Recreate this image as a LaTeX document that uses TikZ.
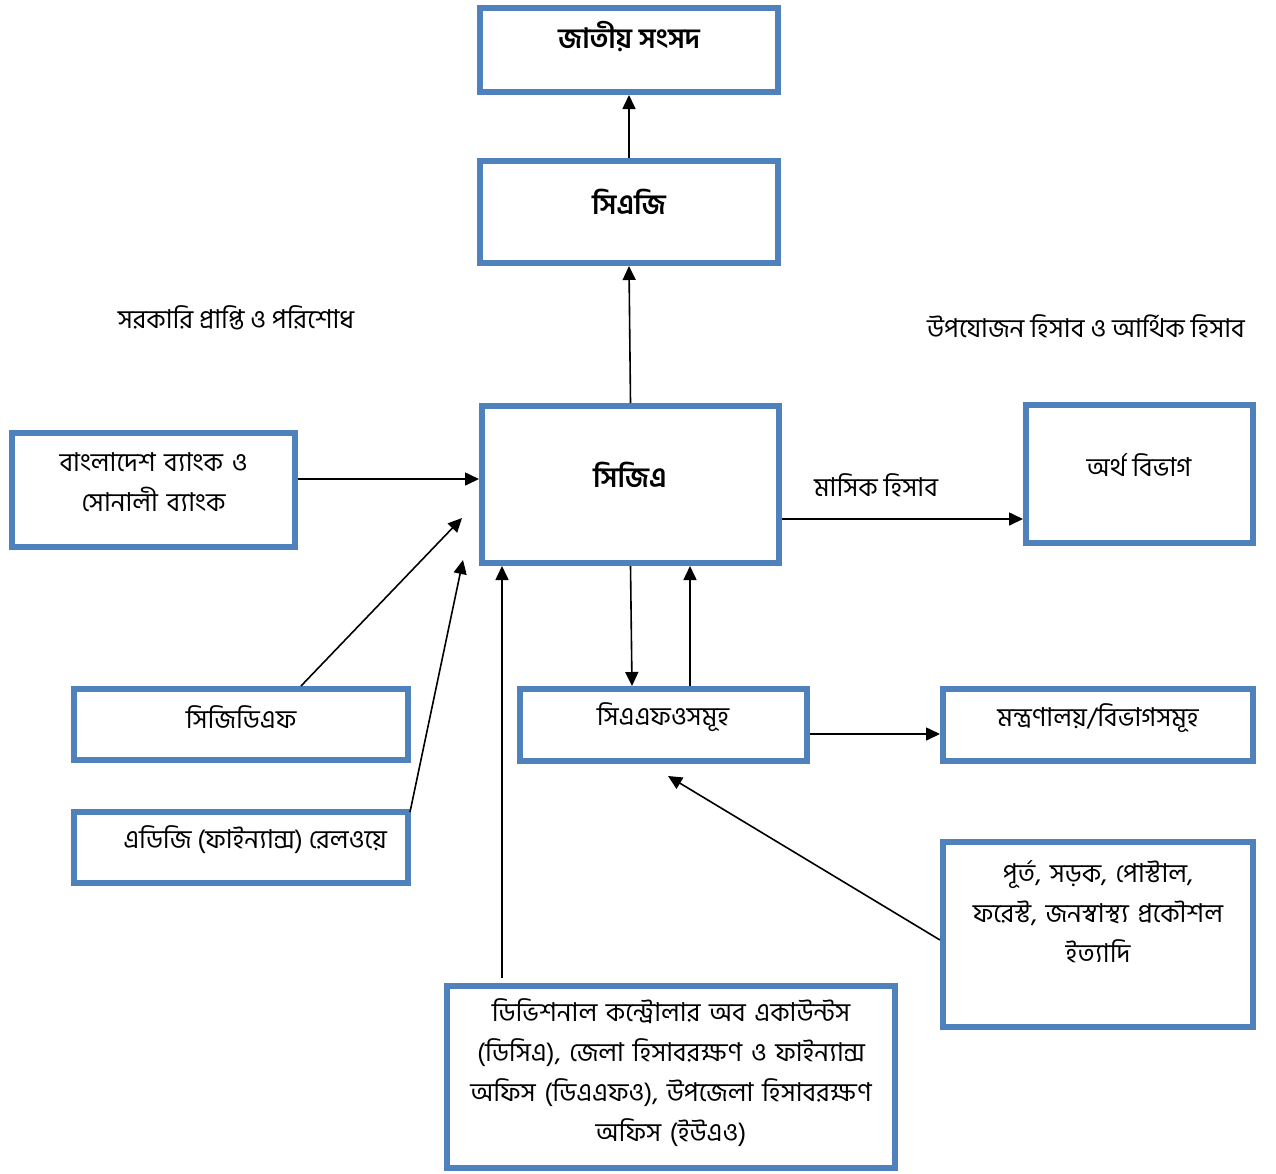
\documentclass[tikz,border=0pt]{standalone}
\usepackage{fontspec}
\newfontfamily\bn[Script=Bengali]{Hind Siliguri}
\usetikzlibrary{arrows.meta}
\definecolor{boxblue}{HTML}{4F81BD}
\tikzset{
  box/.style={draw=boxblue, line width=6pt, fill=white, rectangle, inner sep=0pt},
  txt/.style={font=\bn\fontsize{26}{40}\selectfont, align=center, inner sep=0pt},
  ttl/.style={font=\bn\bfseries\fontsize{28}{34}\selectfont, align=center, inner sep=0pt},
  arr/.style={line width=1.6pt, -{Triangle[length=14pt,width=13pt]}},
}
\begin{document}
\begin{tikzpicture}[x=1pt,y=-1pt]
\useasboundingbox (0,0) rectangle (1276,1173);
% boxes
\node[box, minimum width=298pt, minimum height=84pt] (sangsad) at (629,50) {};
\node[box, minimum width=298pt, minimum height=102pt] (cag) at (629,212) {};
\node[box, minimum width=297pt, minimum height=157pt] (cga) at (630.5,484.5) {};
\node[box, minimum width=283pt, minimum height=114pt] (bb) at (153.5,490) {};
\node[box, minimum width=227pt, minimum height=138pt] (artho) at (1139.5,474) {};
\node[box, minimum width=334pt, minimum height=71pt] (cgdf) at (241,724.5) {};
\node[box, minimum width=334pt, minimum height=71pt] (adg) at (241,847.5) {};
\node[box, minimum width=287pt, minimum height=72pt] (cafo) at (663.5,725) {};
\node[box, minimum width=310pt, minimum height=72pt] (mont) at (1098,725) {};
\node[box, minimum width=310pt, minimum height=185pt] (purto) at (1098,934.5) {};
\node[box, minimum width=448pt, minimum height=182pt] (dca) at (671,1077) {};
% texts
\node[ttl] (tsangsad) at (629,37) {জাতীয় সংসদ};
\node[ttl] (tcag) at (629,202) {সিএজি};
\node[ttl] (tcga) at (630,475) {সিজিএ};
\node[txt, text width=280pt] (tbb) at (153.5,482) {বাংলাদেশ ব্যাংক ও\\সোনালী ব্যাংক};
\node[txt] (tartho) at (1139,465) {অর্থ বিভাগ};
\node[txt] (tcgdf) at (241,717) {সিজিডিএফ};
\node[txt] (tadg) at (255,840) {এডিজি (ফাইন্যান্স) রেলওয়ে};
\node[txt] (tcafo) at (663,717) {সিএএফওসমূহ};
\node[txt] (tmont) at (1098,718) {মন্ত্রণালয়/বিভাগসমূহ};
\node[txt, text width=306pt] (tpurto) at (1098,912) {পূর্ত, সড়ক, পোস্টাল,\\ফরেস্ট, জনস্বাস্থ্য প্রকৌশল\\ইত্যাদি};
\node[txt, text width=444pt] (tdca) at (671,1073) {ডিভিশনাল কন্ট্রোলার অব একাউন্টস\\(ডিসিএ), জেলা হিসাবরক্ষণ ও ফাইন্যান্স\\অফিস (ডিএএফও), উপজেলা হিসাবরক্ষণ\\অফিস (ইউএও)};
\node[txt] (lrecv) at (236,318) {সরকারি প্রাপ্তি ও পরিশোধ};
\node[txt] (lappr) at (1086,326) {উপযোজন হিসাব ও আর্থিক হিসাব};
\node[txt] (lmonth) at (876,485) {মাসিক হিসাব};
% free ends
\coordinate (c1) at (462,518);
\coordinate (c2) at (668,776);
\coordinate (c3) at (463,560);
% connectors
\draw[arr] (cag.north) -- (sangsad.south);
\draw[arr] (cga.north) -- (cag.south);
\draw[arr] ([yshift=11pt]bb.east) -- ([yshift=5.5pt]cga.west);
\draw[arr] ([yshift=-34.5pt]cga.east) -- ([yshift=-45pt]artho.west);
\draw[arr] ([xshift=60pt]cgdf.north) -- (c1);
\draw[arr] ([xshift=-1pt,yshift=-3pt]adg.north east) -- (c3);
\draw[arr] ([xshift=-169pt,yshift=5pt]dca.north) -- ([xshift=-128.5pt]cga.south);
\draw[arr] (cga.south) -- ([xshift=-31.5pt]cafo.north);
\draw[arr] ([xshift=26.5pt]cafo.north) -- ([xshift=59.5pt]cga.south);
\draw[arr] ([yshift=-9pt]cafo.east) -- ([yshift=-9pt]mont.west);
\draw[arr] ([yshift=-5.5pt]purto.west) -- (c2);
\end{tikzpicture}
\end{document}
